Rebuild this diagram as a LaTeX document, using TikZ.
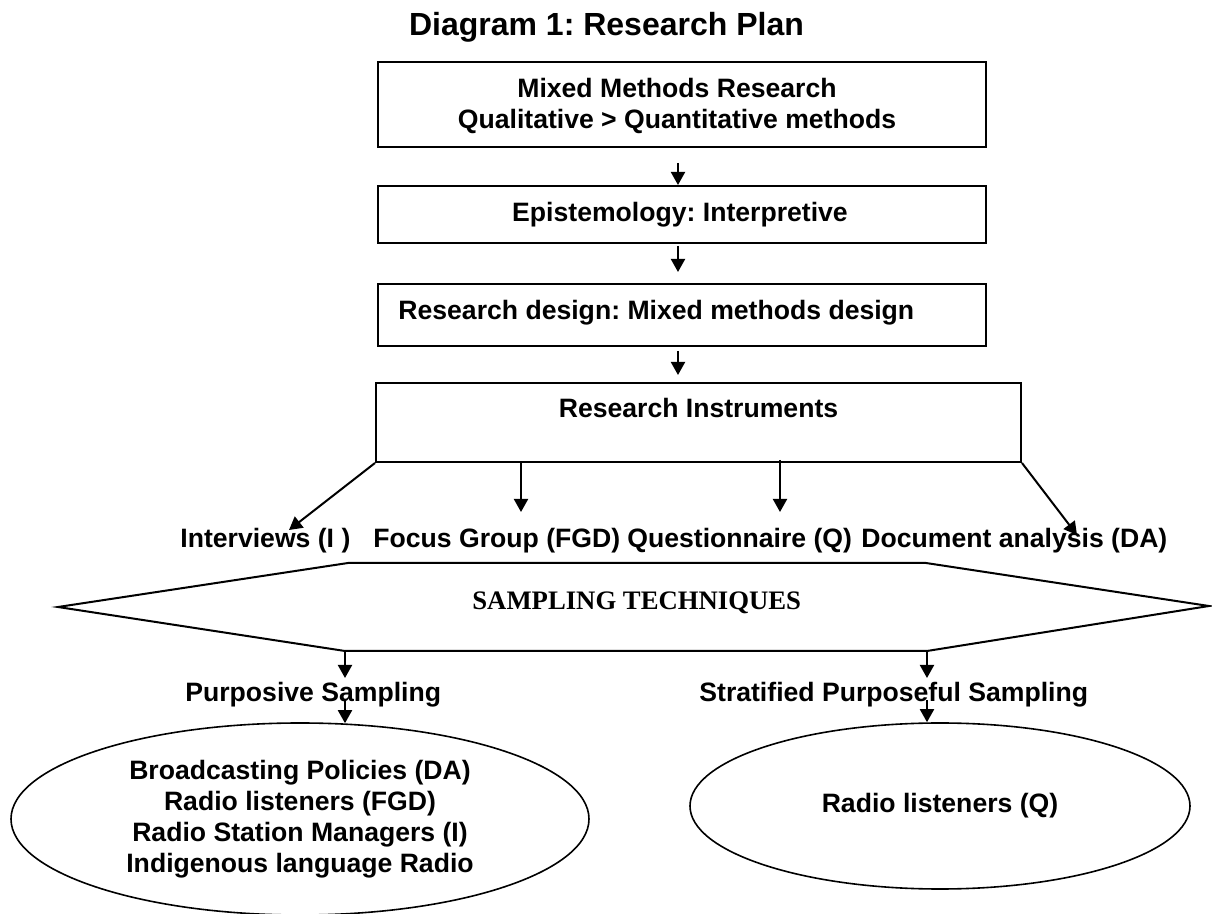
\documentclass[tikz,border=0pt]{standalone}
\usepackage{fontspec}
\setmainfont{Liberation Sans}
\newfontfamily\serifbold{Liberation Serif}
\usetikzlibrary{arrows.meta,shapes.geometric,calc}
\frenchspacing
\begin{document}
\frenchspacing
\begin{tikzpicture}[x=0.5pt,y=-0.5pt,
  box/.style={draw, line width=1pt, rectangle, inner sep=0pt},
  txt/.style={font=\fontsize{13.3pt}{15.5pt}\selectfont\bfseries\frenchspacing, inner sep=0pt, align=center},
  ttl/.style={font=\fontsize{16pt}{19pt}\selectfont\bfseries\frenchspacing, inner sep=0pt},
  stxt/.style={font=\fontsize{13.35pt}{16pt}\selectfont\serifbold\bfseries, inner sep=0pt},
  arr/.style={draw, line width=1pt, -{Triangle[length=6.5pt,width=7pt]}},
  ln/.style={draw, line width=1pt, line join=miter},
  ell/.style={draw, line width=0.8pt, ellipse, inner sep=0pt}]
\path[use as bounding box] (0,0) rectangle (1212,914);
\node[ttl, anchor=base] (title) at (606.5,36) {Diagram 1: Research Plan};
% boxes
\node[box, minimum width=304pt, minimum height=42.5pt] (b1) at (682,104.5) {};
\node[txt] (b1t) at (677,106) {Mixed Methods Research\\Qualitative > Quantitative methods};
\node[box, minimum width=304pt, minimum height=28.5pt] (b2) at (682,214.5) {};
\node[txt, anchor=base] (b2t) at (680,222) {Epistemology: Interpretive};
\node[box, minimum width=304pt, minimum height=31pt] (b3) at (682,315) {};
\node[txt, anchor=base west] (b3t) at (398,320) {Research design: Mixed methods design};
\node[box, minimum width=322.5pt, minimum height=39.5pt] (b4) at (698.5,422.5) {};
\node[txt, anchor=base] (b4t) at (698.5,418) {Research Instruments};
% vertical arrows
\draw[arr] ($(b1.south)+(-4,15)$) -- ($(b2.north)+(-4,0)$);
\draw[arr] ($(b2.south)+(-4,2)$) -- ($(b3.north)+(-4,-11)$);
\draw[arr] ($(b3.south)+(-4,4)$) -- ($(b4.north -| b3.south)+(-4,-7)$);
% instrument labels
\node[txt, anchor=base west] (int) at (180,548) {Interviews (I )};
\node[txt, anchor=base west] (fgd) at (373,548) {Focus Group (FGD)};
\node[txt, anchor=base west] (qst) at (627,548) {Questionnaire (Q)};
\node[txt, anchor=base west] (doc) at (861,548) {Document analysis (DA)};
\draw[arr] (b4.south west) -- ($(int.base west)+(109,-18)$);
\draw[arr] ($(b4.south west -| fgd.base west)+(148,0)$) -- ($(fgd.base west)+(148,-36)$);
\draw[arr] ($(b4.south west -| qst.base west)+(153,-3)$) -- ($(qst.base west)+(153,-36)$);
\draw[arr] (b4.south east) -- ($(doc.base west)+(216,-13)$);
% sampling hexagon
\coordinate (hbl) at (345,651);
\coordinate (hbr) at (927,651);
\draw[ln] (58,607) -- (348,563) -- (926,563) -- (1209,606) -- (hbr) -- (hbl) -- cycle;
\node[stxt, anchor=base west] (samp) at (472,610) {SAMPLING TECHNIQUES};
% sampling types
\node[txt, anchor=base west] (purp) at (185,702) {Purposive Sampling};
\node[txt, anchor=base west] (strat) at (699,702) {Stratified Purposeful Sampling};
\draw[arr] (hbl) -- ($(purp.base west)+(160,-24)$);
\draw[arr] (hbr) -- ($(strat.base west)+(228,-24)$);
% ellipses
\node[ell, txt, minimum width=289pt, minimum height=96pt] (e1) at (300,819) {Broadcasting Policies (DA)\\Radio listeners (FGD)\\Radio Station Managers (I)\\Indigenous language Radio};
\node[ell, txt, minimum width=250pt, minimum height=83pt] (e2) at (940,806) {Radio listeners (Q)};
\draw[arr] ($(purp.base west)+(160,-2)$) -- ($(e1.north)+(45,1)$);
\draw[arr] ($(strat.base west)+(228,-2)$) -- ($(e2.north)+(-13,0)$);
\end{tikzpicture}
\end{document}
